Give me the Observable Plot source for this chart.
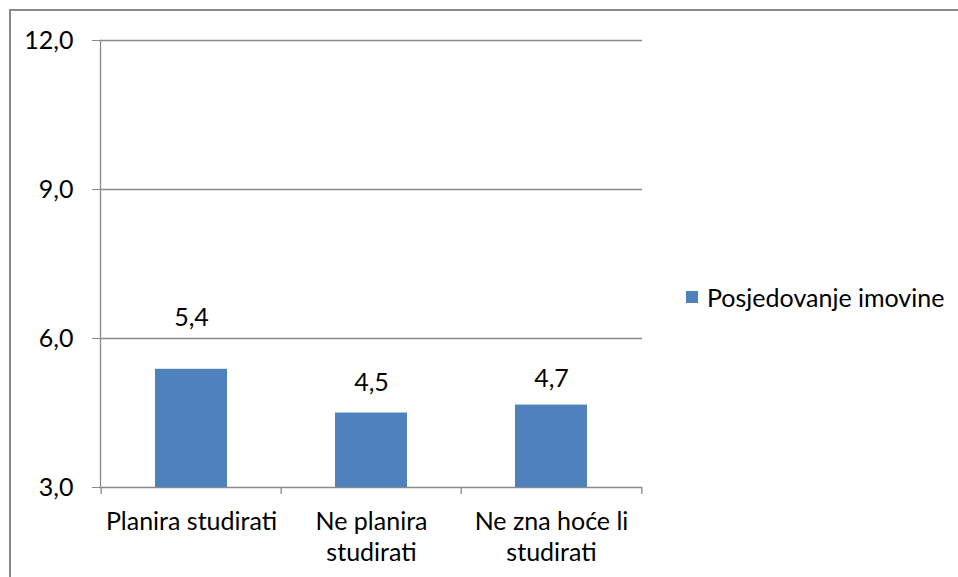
<!DOCTYPE html>
<html>
<head>
<meta charset="utf-8">
<script src="https://cdn.jsdelivr.net/npm/d3@7"></script>
<script src="https://cdn.jsdelivr.net/npm/@observablehq/plot@0.6"></script>
<style>
  html, body { margin: 0; padding: 0; background: #fff; }
  #wrap { position: relative; width: 958px; height: 577px; overflow: hidden; font-family: Lato, "Open Sans", sans-serif; }
  #border { position: absolute; left: 9px; top: 9px; width: 1000px; height: 1000px; border-top: 2px solid #8a8a8a; border-left: 2px solid #8a8a8a; }
  #legend { position: absolute; left: 686px; top: 282px; display: flex; align-items: center; font-size: 25px; color: #000; }
  #legend .sw { width: 12px; height: 12px; background: #4f81bd; margin-right: 9px; }
  #chart { position: absolute; left: 0; top: 0; }
</style>
</head>
<body>
<div id="wrap">
  <div id="border"></div>
  <div id="chart"></div>
  <div id="legend"><div class="sw"></div><span id="legendText"></span></div>
</div>
<script>
const categories = ["Planira studirati", "Ne planira\nstudirati", "Ne zna hoće li\nstudirati"];
const values = [5.38, 4.5, 4.66];
const seriesName = "Posjedovanje imovine";
const yTicks = [3, 6, 9, 12];

const data = categories.map((c, i) => ({cat: c, value: values[i]}));
const fmt = d => d.toFixed(1).replace(".", ",");

const W = 958, H = 577, mL = 100, mR = 316, mT = 40, mB = 90;
const step = (W - mL - mR) / categories.length;
const gray = "#8a8a8a";
const labelOffsets = [-51, -30, -26];
const yMin = 3, tickBottom = 2.86;
const last = categories[categories.length - 1];

const plot = Plot.plot({
  width: W, height: H,
  marginLeft: mL, marginRight: mR, marginTop: mT, marginBottom: mB,
  style: {fontFamily: "Lato, 'Open Sans', sans-serif", fontSize: "25px", color: "#000", background: "transparent", overflow: "visible"},
  x: {type: "band", domain: categories, paddingInner: 0.6, paddingOuter: 0.3, label: null},
  y: {domain: [3, 12], label: null},
  marks: [
    Plot.gridY(yTicks, {stroke: gray, strokeOpacity: 1, strokeWidth: 1.3}),
    Plot.frame({anchor: "left", stroke: gray, strokeWidth: 1.3}),
    Plot.ruleX(categories, {x: d => d, dx: -step / 2, y1: yMin, y2: tickBottom, stroke: gray, strokeWidth: 1.3, clip: false}),
    Plot.ruleX([last], {x: d => d, dx: step / 2, y1: yMin, y2: tickBottom, stroke: gray, strokeWidth: 1.3, clip: false}),
    Plot.barY(data, {x: "cat", y1: 3, y2: "value", fill: "#4f81bd"}),
    ...data.map((d, i) => Plot.text([d], {x: "cat", y: "value", text: dd => fmt(dd.value), dy: labelOffsets[i], fontSize: 25, fill: "#000"})),
    Plot.axisY(yTicks, {tickSize: 8, tickPadding: 19, tickFormat: fmt, stroke: gray, fill: "#000", fontSize: 25}),
    Plot.axisX({tickSize: 0, tickPadding: 20, fontSize: 25, lineHeight: 1.26, fill: "#000"})
  ]
});
document.getElementById("chart").appendChild(plot);
document.getElementById("legendText").textContent = seriesName;
</script>
</body>
</html>
